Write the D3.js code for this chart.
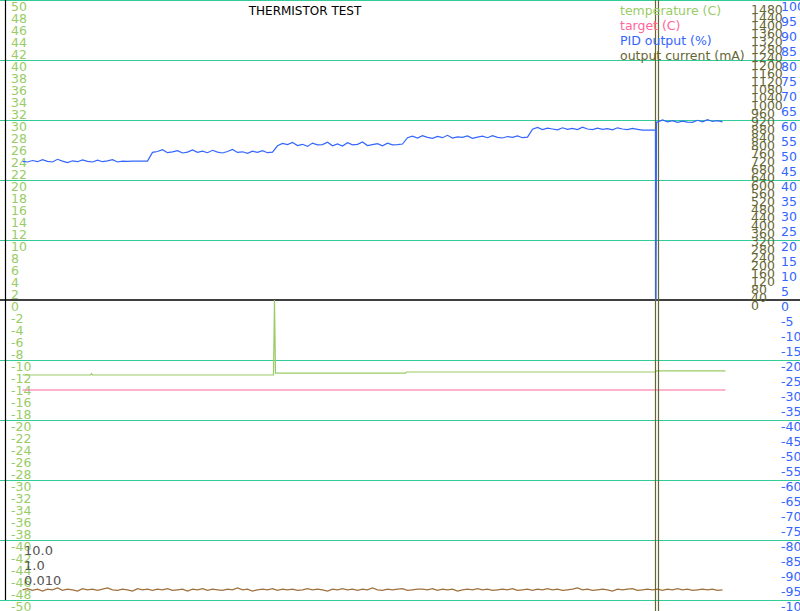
<!DOCTYPE html>
<html>
<head>
    <title>Thermistor test</title>
    <script src="https://d3js.org/d3.v7.min.js"></script>
    <style>
        body { margin: 0; background: #fff; }
        svg { display: block; font-family: "DejaVu Sans", sans-serif; }
    </style>
</head>
<body>
    <svg id="chart"></svg>
    <script>
        const width = 800;
        const height = 611;

        // sample period of the logged series (s)
        const samplePeriod = 5;
        const runLength = 703;

        // PID output (%), one value per sample
        const pidValues = [
            46.2, 46.0, 46.5, 46.1, 46.8, 46.2, 46.0, 46.9, 46.3, 45.8, 46.4, 46.1, 46.7, 46.2, 46.0, 46.6, 46.1, 46.4, 46.8, 46.0, 46.3, 46.2, 46.3, 46.3, 46.3, 46.3,
            49.2, 49.5, 50.1, 49.1, 49.4, 49.8, 49.0, 49.3, 50.0, 49.2, 49.6, 49.1, 49.9, 49.3, 49.0, 49.5, 50.2, 49.2, 49.4, 48.9, 49.6, 49.2, 49.8, 49.1, 49.3,
            51.4, 52.2, 51.8, 52.5, 51.5, 51.9, 51.2, 52.3, 51.7, 51.8, 52.6, 51.4, 52.0, 51.3, 52.4, 51.7, 51.9, 52.7, 51.5, 51.8, 52.1, 51.4, 52.3, 51.7, 51.8, 52.0,
            54.1, 54.6, 54.0, 54.8, 54.2, 53.9, 54.5, 54.1, 54.9, 54.0, 54.4, 54.2, 54.7, 53.9, 54.3, 54.6, 54.1, 54.8, 54.2, 54.0, 54.5, 54.2, 54.7, 54.1, 54.3,
            56.9, 57.5, 56.8, 57.3, 57.0, 56.7, 57.4, 56.9, 57.2, 56.8, 57.6, 57.0, 56.8, 57.3, 56.9, 57.1, 56.7, 57.4, 57.0, 56.8, 57.2, 56.9, 56.6, 56.6, 56.6,
            59.3, 60.0, 59.4, 59.8, 59.2, 59.6, 59.3, 59.2, 59.9, 59.4, 60.1, 59.5, 59.8, 59.4
        ];
        // PID dropout glitch [t, %]
        const pidDropout = [[633, 56.6], [633.5, 0], [634, 59.3]];

        // temperature (C) as [t, value]
        const temperature = [
            [0, -12.5], [68, -12.5], [69, -12.3], [70, -12.5], [251, -12.5], [252, 0], [253, -12.2],
            [383, -12.2], [384, -12.0], [633, -12.0], [634, -11.8], [703, -11.8]
        ];

        // target (C) as [t, value]
        const target = [[0, -15], [703, -15]];

        // output current (mA) as [t, value]
        const current = [[0, -2000], [633, -2000], [633, 3000], [636, 3000], [636, -2000], [703, -2000]];

        // bottom trace (plotted on temperature axis), one value per sample
        const ripple = [
            -48.3, -48.1, -48.4, -48.2, -48.5, -48.2, -48.3, -48.0, -48.4, -48.2, -48.3, -48.5, -48.1, -48.3, -48.2, -48.4, -48.2, -48.0, -48.3, -48.4,
            -48.2, -48.3, -48.5, -48.1, -48.3, -48.2, -48.4, -48.2, -48.3, -48.1, -48.4, -48.3, -48.2, -48.5, -48.2, -48.3, -48.1, -48.4, -48.2, -48.3,
            -48.4, -48.2, -48.3, -48.0, -48.3, -48.2, -48.5, -48.3, -48.2, -48.3, -48.1, -48.4, -48.2, -48.3, -48.2, -48.4, -48.3, -48.1, -48.3, -48.2,
            -48.3, -48.5, -48.2, -48.3, -48.1, -48.3, -48.2, -48.4, -48.2, -48.3, -48.0, -48.3, -48.4, -48.2, -48.3, -48.2, -48.1, -48.4, -48.3, -48.2,
            -48.2, -48.3, -48.1, -48.4, -48.2, -48.3, -48.2, -48.5, -48.3, -48.2, -48.3, -48.1, -48.3, -48.2, -48.4, -48.3, -48.2, -48.3, -48.1, -48.4,
            -48.3, -48.2, -48.4, -48.2, -48.3, -48.1, -48.3, -48.2, -48.4, -48.3, -48.2, -48.0, -48.3, -48.2, -48.4, -48.3, -48.2, -48.3, -48.5, -48.2,
            -48.3, -48.2, -48.1, -48.4, -48.3, -48.2, -48.3, -48.2, -48.4, -48.2, -48.3, -48.1, -48.3, -48.2, -48.4, -48.3, -48.2, -48.3, -48.2, -48.4, -48.3
        ];

        // PID gains shown in the corner
        const gainLabels = ["10.0", "1.0", "0.010"];

        const legendItems = [
            { label: "temperature (C)", color: "#99cc66" },
            { label: "target (C)", color: "#ff6699" },
            { label: "PID output (%)", color: "#3366ff" },
            { label: "output current (mA)", color: "#666633" }
        ];

        const tempTicks = d3.range(-50, 51, 2);
        const pidTicks = d3.range(-100, 101, 5);
        const currentTicks = d3.range(0, 1481, 40);
        const gridTicks = d3.range(-50, 51, 10);

        const svg = d3.select("#chart")
            .attr("width", width)
            .attr("height", height);

        const x = d3.scaleLinear().domain([0, runLength]).range([22.5, 725.5]);
        const yTemp = d3.scaleLinear().domain([-50, 50]).range([600, 0]);
        const yPid = d3.scaleLinear().domain([-100, 100]).range([600, 0]);
        const yCur = d3.scaleLinear().domain([0, 1500]).range([300, 0]);

        // grid
        svg.append("g").selectAll("line")
            .data(gridTicks.filter(d => d !== 0))
            .enter().append("line")
            .attr("x1", 0).attr("x2", width)
            .attr("y1", d => yTemp(d) + 0.5).attr("y2", d => yTemp(d) + 0.5)
            .style("stroke", "#33cc99")
            .style("stroke-width", 1);

        svg.append("line")
            .attr("x1", 0).attr("x2", width)
            .attr("y1", yTemp(0)).attr("y2", yTemp(0))
            .style("stroke", "#000")
            .style("stroke-width", 1.5);

        svg.append("line")
            .attr("x1", 5.5).attr("x2", 5.5)
            .attr("y1", 0).attr("y2", 600)
            .style("stroke", "#000")
            .style("stroke-width", 1.2);

        // axis labels
        svg.append("g").selectAll("text")
            .data(tempTicks)
            .enter().append("text")
            .attr("x", 11)
            .attr("y", d => yTemp(d) + 11)
            .style("font-size", "12.5px")
            .style("fill", "#99cc66")
            .text(d => d);

        svg.append("g").selectAll("text")
            .data(currentTicks)
            .enter().append("text")
            .attr("x", 751)
            .attr("y", d => yCur(d) + 10)
            .style("font-size", "12.5px")
            .style("fill", "#666633")
            .text(d => d);

        svg.append("g").selectAll("text")
            .data(pidTicks)
            .enter().append("text")
            .attr("x", 781)
            .attr("y", d => yPid(d) + 11)
            .style("font-size", "12.5px")
            .style("fill", "#3366ff")
            .text(d => d);

        // series
        const tempLine = d3.line().x(d => x(d[0])).y(d => yTemp(d[1]));
        const pidLine = d3.line().x(d => x(d[0])).y(d => yPid(d[1]));
        const curLine = d3.line().x(d => x(d[0])).y(d => yCur(d[1]));

        const pidPoints = pidValues.map((v, i) => [i * samplePeriod, v])
            .concat(pidDropout)
            .sort((a, b) => a[0] - b[0]);
        const ripplePoints = ripple.map((v, i) => [i * samplePeriod, v]);

        svg.append("path")
            .attr("d", tempLine(ripplePoints))
            .style("fill", "none")
            .style("stroke", "#a0703c")
            .style("stroke-width", 1.2);

        svg.append("path")
            .attr("d", tempLine(target))
            .style("fill", "none")
            .style("stroke", "#ff6699")
            .style("stroke-width", 1.2);

        svg.append("path")
            .attr("d", tempLine(temperature))
            .style("fill", "none")
            .style("stroke", "#99cc66")
            .style("stroke-width", 1.2);

        svg.append("path")
            .attr("d", curLine(current))
            .style("fill", "none")
            .style("stroke", "#666633")
            .style("stroke-width", 1.2);

        svg.append("path")
            .attr("d", pidLine(pidPoints))
            .style("fill", "none")
            .style("stroke", "#3366ff")
            .style("stroke-width", 1.2);

        // title
        svg.append("text")
            .attr("x", 305)
            .attr("y", 15)
            .attr("text-anchor", "middle")
            .style("font-size", "12px")
            .style("fill", "#000")
            .text("THERMISTOR TEST");

        // legend
        svg.append("g").selectAll("text")
            .data(legendItems)
            .enter().append("text")
            .attr("x", 620)
            .attr("y", (d, i) => 15 + i * 15)
            .style("font-size", "12.5px")
            .style("fill", d => d.color)
            .text(d => d.label);

        // gains
        svg.append("g").selectAll("text")
            .data(gainLabels)
            .enter().append("text")
            .attr("x", 24)
            .attr("y", (d, i) => 555 + i * 15)
            .style("font-size", "13px")
            .style("fill", "#555")
            .text(d => d);
    </script>
</body>
</html>
